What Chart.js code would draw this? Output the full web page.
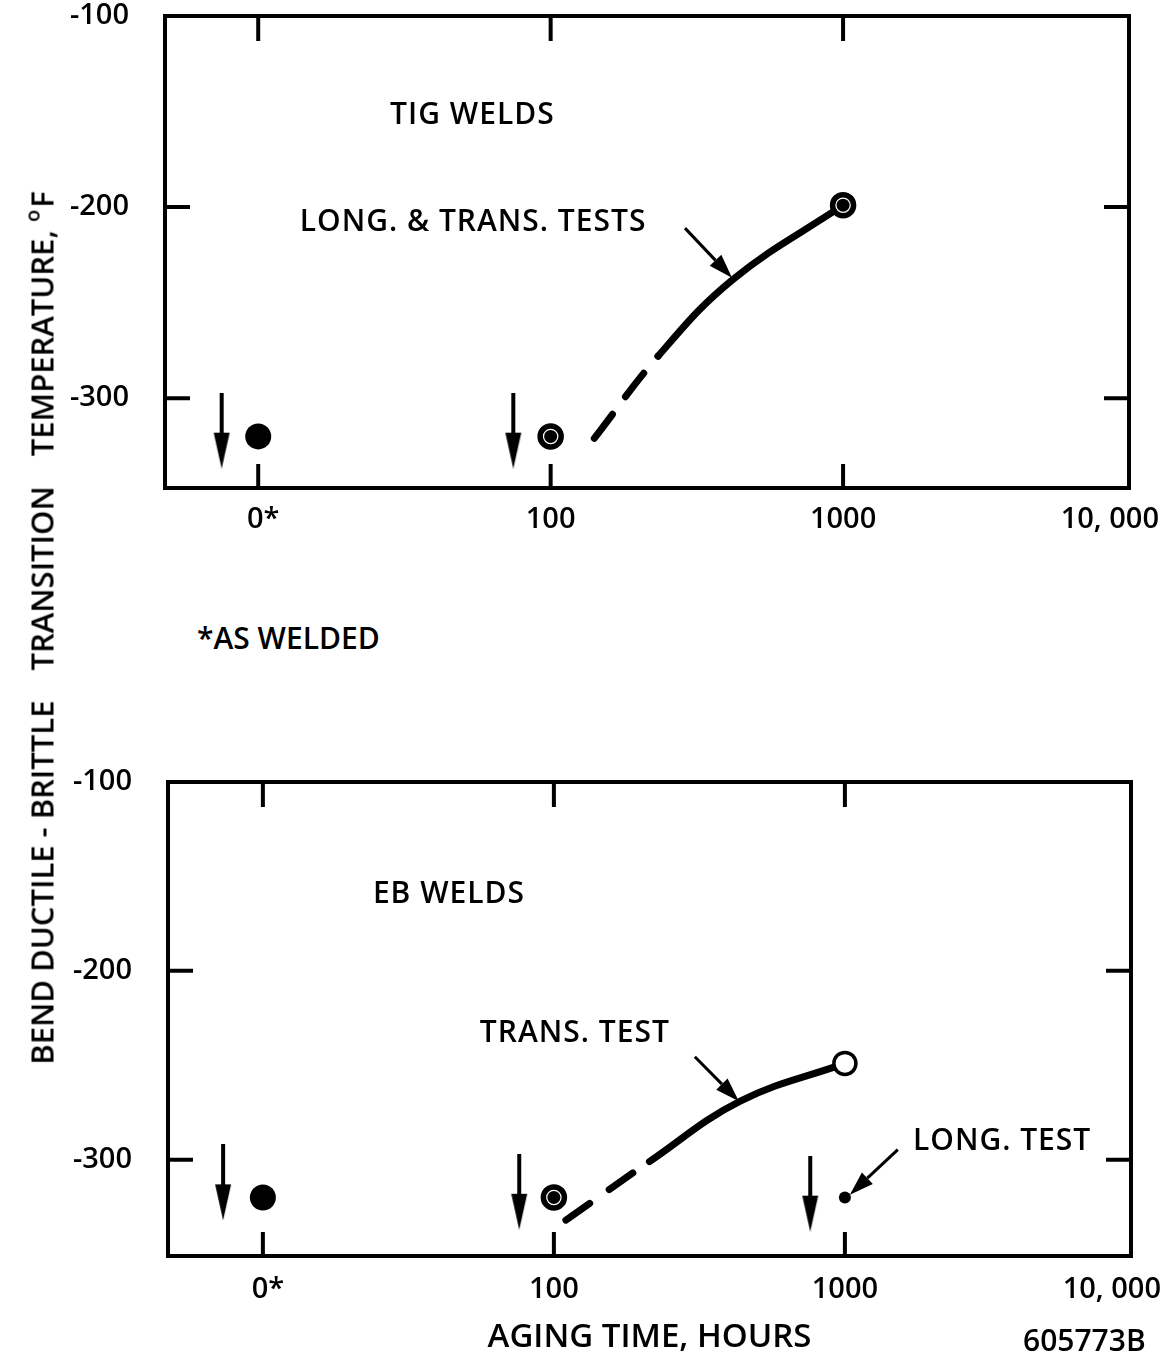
<!DOCTYPE html>
<html>
<head>
<meta charset="utf-8">
<script src="https://cdn.jsdelivr.net/npm/chart.js@4.4.1/dist/chart.umd.min.js"></script>
<style>
  body { margin: 0; background: #fff; }
  #page { position: relative; width: 1167px; height: 1361px; overflow: hidden;
          font-family: "Open Sans", sans-serif; font-weight: 600; color: #000; }
  canvas { position: absolute; left: 0; }
  #topChart { top: 0; }
  #bottomChart { top: 700px; }
  .txt { position: absolute; white-space: nowrap; line-height: 1; font-size: 30px; }
  #ytitle { left: 40px; top: 628px; font-size: 31px; transform: translate(-50%, -50%) rotate(-90deg); }
  #ytitle .gap { display: inline-block; width: 30px; }
  #ytitle sup { font-size: 20px; vertical-align: 14px; margin-right: 2px; }
  #asWelded { left: 197px; top: 638px; transform: translateY(-50%); }
  #figNo { left: 1023px; top: 1340px; transform: translateY(-50%); }
</style>
</head>
<body>
<div id="page">
  <canvas id="topChart" width="1167" height="560"></canvas>
  <canvas id="bottomChart" width="1167" height="661"></canvas>
  <div class="txt" id="ytitle">BEND DUCTILE - BRITTLE<span class="gap"></span>TRANSITION<span class="gap"></span>TEMPERATURE, <sup>o</sup>F</div>
  <div class="txt" id="asWelded">*AS WELDED</div>
  <div class="txt" id="figNo">605773B</div>
</div>
<script>
/* globals Chart */

const xTickValues = [10, 100, 1000, 10000];
const xTickLabels = ["0*", "100", "1000", "10, 000"];
const yTickValues = [-100, -200, -300];

// TIG welds (upper panel), hours vs temperature F
const tigDotHours = [10];
const tigDotTemps = [-320];
const tigEyeHours = [100, 1000];
const tigEyeTemps = [-320, -199];
const tigCurveHours = [141, 233, 419, 1000];
const tigCurveTemps = [-321, -278, -238, -199];
const tigBelowHours = [7.5, 74.5];
const tigBelowTemps = [-317, -317];

// EB welds (lower panel)
const ebDotHours = [10];
const ebDotTemps = [-320];
const ebEyeHours = [100];
const ebEyeTemps = [-320];
const ebOpenHours = [1000];
const ebOpenTemps = [-249];
const ebLongHours = [1000];
const ebLongTemps = [-320];
const ebCurveHours = [110, 213, 437, 1000];
const ebCurveTemps = [-332, -301, -269, -249];
const ebBelowHours = [7.3, 76, 760];
const ebBelowTemps = [-312, -317, -318];

const FONT = '"Open Sans", sans-serif';

// down arrow used as a point style ("below this temperature")
const arrowImg = document.createElement("canvas");
arrowImg.width = 18;
arrowImg.height = 76;
(function () {
  const c = arrowImg.getContext("2d");
  c.fillStyle = "#000";
  c.fillRect(7, 0, 4, 46);
  c.beginPath();
  c.moveTo(1, 40);
  c.lineTo(17, 40);
  c.lineTo(9, 76);
  c.closePath();
  c.fill();
})();

const pts = (hours, temps) => hours.map((h, i) => ({ x: h, y: temps[i] }));

function curveSet(hours, temps, dash) {
  return {
    type: "line",
    data: pts(hours, temps),
    borderColor: "#000",
    borderWidth: 7,
    borderCapStyle: "round",
    tension: 0.4,
    pointRadius: 0,
    clip: false,
    order: 5,
    segment: { borderDash: (c) => (c.p0DataIndex === 0 ? dash : undefined) },
  };
}

function pointSet(hours, temps, style) {
  return Object.assign(
    { type: "scatter", data: pts(hours, temps), clip: false, pointBorderColor: "#000", pointBorderWidth: 0 },
    style
  );
}

const dotStyle = { pointRadius: 13, pointBackgroundColor: "#000", order: 3 };
const ringStyle = { pointRadius: 10.5, pointBackgroundColor: "#fff", pointBorderWidth: 5.5, order: 3 };
const centerStyle = { pointRadius: 6.5, pointBackgroundColor: "#000", order: 2 };
const openStyle = { pointRadius: 11, pointBackgroundColor: "#fff", pointBorderWidth: 3.5, order: 3 };
const smallStyle = { pointRadius: 6, pointBackgroundColor: "#000", order: 3 };
const belowStyle = { pointStyle: arrowImg, pointRadius: 10, order: 4 };

function overlay(cfg) {
  return {
    id: "overlay",
    beforeDatasetsDraw(chart) {
      const { ctx, chartArea: a, scales } = chart;
      const x = scales.x, y = scales.y;
      ctx.save();
      ctx.strokeStyle = "#000";
      ctx.lineWidth = 4;
      ctx.strokeRect(a.left, a.top, a.right - a.left, a.bottom - a.top);
      ctx.beginPath();
      xTickValues.slice(0, 3).forEach((v) => {
        const px = x.getPixelForValue(v);
        ctx.moveTo(px, a.top);
        ctx.lineTo(px, a.top + 25);
        ctx.moveTo(px, a.bottom);
        ctx.lineTo(px, a.bottom - 24);
      });
      yTickValues.slice(1).forEach((v) => {
        const py = y.getPixelForValue(v);
        ctx.moveTo(a.left, py);
        ctx.lineTo(a.left + 25, py);
        ctx.moveTo(a.right, py);
        ctx.lineTo(a.right - 25, py);
      });
      ctx.stroke();
      // x tick labels
      ctx.fillStyle = "#000";
      ctx.font = "600 29px " + FONT;
      ctx.textBaseline = "middle";
      xTickLabels.forEach((t, i) => {
        const last = i === xTickLabels.length - 1;
        ctx.textAlign = last ? "right" : "center";
        const px = last ? a.right + 30 : x.getPixelForValue(xTickValues[i]);
        ctx.fillText(t, px + (t === "0*" ? 5 : 0), a.bottom + cfg.labelGap);
      });
      ctx.restore();
    },
    afterDatasetsDraw(chart) {
      const { ctx, scales } = chart;
      const x = scales.x, y = scales.y;
      ctx.save();
      ctx.fillStyle = "#000";
      ctx.strokeStyle = "#000";
      ctx.font = "600 30px " + FONT;
      ctx.letterSpacing = "1px";
      ctx.textAlign = "center";
      ctx.textBaseline = "alphabetic";
      cfg.notes.forEach((n) => {
        ctx.fillText(n.text, x.getPixelForValue(n.x), y.getPixelForValue(n.y) + 11);
      });
      cfg.pointers.forEach((p) => {
        const x0 = x.getPixelForValue(p.from[0]), y0 = y.getPixelForValue(p.from[1]);
        const x1 = x.getPixelForValue(p.to[0]), y1 = y.getPixelForValue(p.to[1]);
        const ang = Math.atan2(y1 - y0, x1 - x0);
        const hl = 24, hw = 8;
        const bx = x1 - hl * Math.cos(ang), by = y1 - hl * Math.sin(ang);
        ctx.lineWidth = 3;
        ctx.beginPath();
        ctx.moveTo(x0, y0);
        ctx.lineTo(bx, by);
        ctx.stroke();
        ctx.beginPath();
        ctx.moveTo(x1, y1);
        ctx.lineTo(bx + hw * Math.sin(ang), by - hw * Math.cos(ang));
        ctx.lineTo(bx - hw * Math.sin(ang), by + hw * Math.cos(ang));
        ctx.closePath();
        ctx.fill();
      });
      ctx.restore();
    },
  };
}

function makeChart(id, datasets, layout, cfg) {
  return new Chart(document.getElementById(id), {
    data: { datasets },
    options: {
      responsive: false,
      animation: false,
      events: [],
      layout: { padding: { top: layout.top, right: layout.right, left: 0, bottom: 0 } },
      scales: {
        x: {
          type: "logarithmic",
          min: layout.xMin,
          max: layout.xMax,
          grid: { display: false, drawTicks: false },
          border: { display: false },
          ticks: { display: false },
          title: {
            display: !!layout.xTitle,
            text: layout.xTitle || "",
            color: "#000",
            font: { family: FONT, size: 33, weight: "600" },
          },
          afterFit: (s) => { s.height = layout.xHeight; },
        },
        y: {
          type: "linear",
          min: layout.yMin,
          max: -100,
          grid: { display: false, drawTicks: false },
          border: { display: false },
          afterBuildTicks: (s) => { s.ticks = yTickValues.map((v) => ({ value: v })); },
          ticks: {
            color: "#000",
            padding: 36,
            font: { family: FONT, size: 29, weight: "600" },
          },
          afterFit: (s) => {
            s.width = layout.yWidth;
            s.paddingTop = 0;
            s.paddingBottom = 0;
          },
        },
      },
      plugins: { legend: { display: false }, tooltip: { enabled: false } },
    },
    plugins: [overlay(cfg)],
  });
}

/* exported topChart, bottomChart */
const topChart = makeChart(
  "topChart",
  [
    curveSet(tigCurveHours, tigCurveTemps, [30, 22]),
    pointSet(tigDotHours, tigDotTemps, dotStyle),
    pointSet(tigEyeHours, tigEyeTemps, ringStyle),
    pointSet(tigEyeHours, tigEyeTemps, centerStyle),
    pointSet(tigBelowHours, tigBelowTemps, belowStyle),
  ],
  { top: 15, right: 38, yWidth: 165, xHeight: 72, xMin: 4.8, xMax: 9500, yMin: -347 },
  {
    labelGap: 32,
    notes: [
      { text: "TIG WELDS", x: 54, y: -151 },
      { text: "LONG. & TRANS. TESTS", x: 54.3, y: -207 },
    ],
    pointers: [{ from: [288, -211], to: [417, -237] }],
  }
);

const bottomChart = makeChart(
  "bottomChart",
  [
    curveSet(ebCurveHours, ebCurveTemps, [29, 24]),
    pointSet(ebDotHours, ebDotTemps, dotStyle),
    pointSet(ebEyeHours, ebEyeTemps, ringStyle),
    pointSet(ebEyeHours, ebEyeTemps, centerStyle),
    pointSet(ebOpenHours, ebOpenTemps, openStyle),
    pointSet(ebLongHours, ebLongTemps, smallStyle),
    pointSet(ebBelowHours, ebBelowTemps, belowStyle),
  ],
  { top: 82, right: 36, yWidth: 168, xHeight: 105, xMin: 4.72, xMax: 9620, yMin: -351, xTitle: "AGING TIME, HOURS" },
  {
    labelGap: 34,
    notes: [
      { text: "EB WELDS", x: 43.6, y: -158 },
      { text: "TRANS. TEST", x: 118, y: -232 },
      { text: "LONG. TEST", x: 3470, y: -289 },
    ],
    pointers: [
      { from: [305, -245.5], to: [432, -269] },
      { from: [1520, -294.7], to: [1040, -318.5] },
    ],
  }
);
</script>
</body>
</html>
